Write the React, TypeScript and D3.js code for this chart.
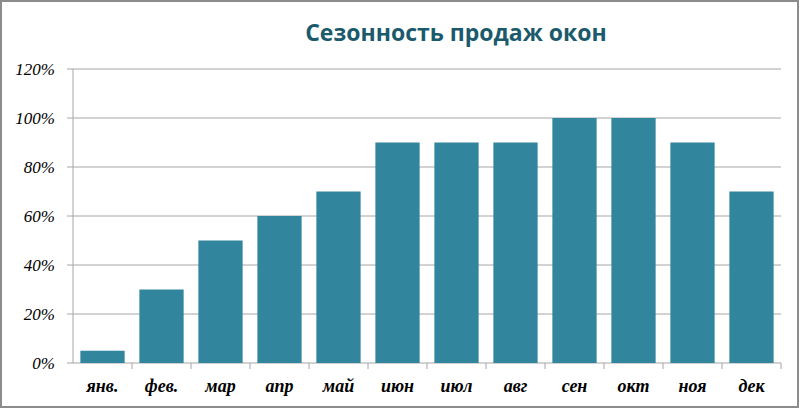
import React from "react";
import * as d3 from "d3";

const months = ["янв.", "фев.", "мар", "апр", "май", "июн", "июл", "авг", "сен", "окт", "ноя", "дек"];
const values = [5, 30, 50, 60, 70, 90, 90, 90, 100, 100, 90, 70];
const yTicks = [0, 20, 40, 60, 80, 100, 120];
const title = "Сезонность продаж окон";

export default function App() {
  const W = 799, H = 408;
  const x0 = 73, x1 = 781, yTop = 69, yBot = 363;
  const x = d3.scaleBand<string>().domain(months).range([x0, x1]).paddingInner(0.25).paddingOuter(0.125);
  const xb = d3.scaleBand<string>().domain(months).range([x0, x1]);
  const y = d3.scaleLinear().domain([0, 120]).range([yBot, yTop]);
  return (
    <svg width={W} height={H} style={{ position: "fixed", left: 0, top: 0, background: "#fff" }}>
      <rect x={1} y={1} width={W - 2} height={H - 2} fill="#fff" stroke="#8c8c8c" strokeWidth={2} />
      <text x={456} y={41} textAnchor="middle" fontFamily="'Open Sans', sans-serif" fontWeight="bold" fontSize={23} fill="#1b5a6c">{title}</text>
      {yTicks.map((t) => (
        <g key={t}>
          <line x1={x0 - 6} x2={x1} y1={y(t)} y2={y(t)} stroke="#a6a6a6" strokeWidth={1} />
          <text x={55} y={y(t) + 6} textAnchor="end" fontFamily="'Liberation Serif', serif" fontStyle="italic" fontSize={17} fill="#000">{t}%</text>
        </g>
      ))}
      <line x1={x0} x2={x0} y1={yTop} y2={yBot} stroke="#a6a6a6" />
      {months.map((m, i) => (
        <rect key={m} x={x(m)} y={y(values[i])} width={x.bandwidth()} height={yBot - y(values[i])} fill="#31859c" />
      ))}
      {months.map((m) => (
        <line key={"t" + m} x1={(xb(m) as number) + xb.bandwidth()} x2={(xb(m) as number) + xb.bandwidth()} y1={yBot} y2={yBot + 6} stroke="#a6a6a6" />
      ))}
      {months.map((m) => (
        <text key={"l" + m} x={(xb(m) as number) + xb.bandwidth() / 2} y={392} textAnchor="middle" fontFamily="'Liberation Serif', serif" fontStyle="italic" fontWeight="bold" fontSize={18} fill="#000">{m}</text>
      ))}
    </svg>
  );
}
